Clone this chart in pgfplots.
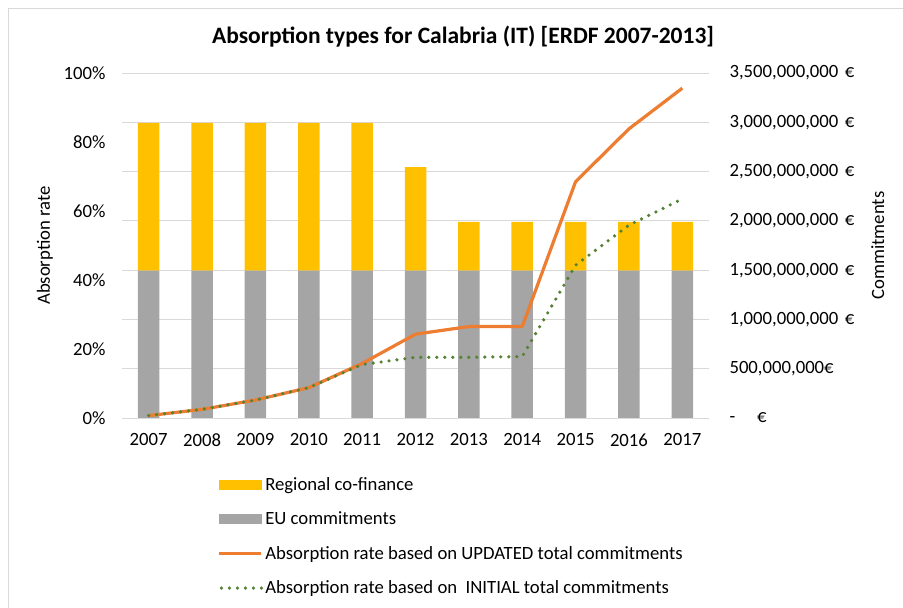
\documentclass[border=0pt]{standalone}
\usepackage{pgfplots}
\pgfplotsset{compat=1.18}
\usepackage{fontspec}
\setmainfont{Carlito}
\definecolor{cofin}{HTML}{FFC000}
\definecolor{eugrey}{HTML}{A5A5A5}
\definecolor{upd}{HTML}{ED7D31}
\definecolor{ini}{HTML}{548235}
\definecolor{gridc}{HTML}{D9D9D9}
\newcommand{\fs}{\fontsize{18.7}{21}\selectfont}
\newcommand{\eu}{\hspace{0.35em}€}
\begin{document}
\begin{tikzpicture}
\path[use as bounding box] (0pt,0pt) rectangle (903pt,608pt);
\draw[gridc, line width=0.8pt] (8pt,0pt) -- (8pt,600pt) -- (903pt,600pt);
\node[font=\fontsize{23.5}{26}\selectfont\bfseries] at (463pt,571pt) {Absorption types for Calabria (IT) [ERDF 2007-2013]};
% bars on right axis
\begin{axis}[
  at={(122pt,190pt)}, anchor=south west,
  width=587pt, height=345pt, scale only axis,
  xmin=-0.5, xmax=10.5,
  ymin=0, ymax=3.5e9,
  scaled y ticks=false,
  axis y line*=right,
  axis x line=none,
  ybar stacked, bar width=21.5pt,
  ytick={0,5e8,1e9,1.5e9,2e9,2.5e9,3e9,3.5e9},
  yticklabels={{-\enspace\enspace\,€},{500,000,000€},{1,000,000,000\eu},{1,500,000,000\eu},{2,000,000,000\eu},{2,500,000,000\eu},{3,000,000,000\eu},{3,500,000,000\eu}},
  yticklabel style={font=\fs, anchor=west, xshift=17pt},
  ymajorgrids, grid style={gridc, line width=0.9pt},
  major tick length=0pt,
  axis line style={draw=none},
  ylabel={Commitments}, ylabel style={font=\fs},
  ylabel shift=10pt,
]
\addplot[fill=eugrey, draw=none] coordinates {(0,1.495e9) (1,1.495e9) (2,1.495e9) (3,1.495e9) (4,1.495e9) (5,1.495e9) (6,1.495e9) (7,1.495e9) (8,1.495e9) (9,1.495e9) (10,1.495e9)};
\addplot[fill=cofin, draw=none] coordinates {(0,1.5e9) (1,1.5e9) (2,1.5e9) (3,1.5e9) (4,1.5e9) (5,1.05e9) (6,0.495e9) (7,0.495e9) (8,0.495e9) (9,0.495e9) (10,0.495e9)};
\end{axis}
% lines on left axis
\begin{axis}[
  at={(122pt,190pt)}, anchor=south west,
  width=587pt, height=345pt, scale only axis,
  xmin=-0.5, xmax=10.5,
  ymin=0, ymax=1,
  axis y line*=left,
  axis x line*=bottom,
  axis line style={draw=none},
  xtick={0,...,10},
  xticklabels={2007,2008,2009,2010,2011,2012,2013,2014,2015,2016,2017},
  xticklabel style={font=\fs, yshift=-12pt},
  ytick={0,0.2,0.4,0.6,0.8,1},
  yticklabels={0\%,20\%,40\%,60\%,80\%,100\%},
  yticklabel style={font=\fs, xshift=-13pt},
  major tick length=0pt,
  ylabel={Absorption rate}, ylabel style={font=\fs},
  ylabel shift=4pt,
  legend style={at={(0.163,-0.166)}, anchor=north west, draw=none, fill=none,
    font=\fs, row sep=16pt, inner sep=0pt,
    /tikz/every even column/.append style={column sep=6pt}},
  legend cell align=left,
]
\addlegendimage{area legend, legend image code/.code={\fill[cofin] (0pt,-4.5pt) rectangle (42pt,4.5pt);}}
\addlegendentry{Regional co-finance}
\addlegendimage{area legend, legend image code/.code={\fill[eugrey] (0pt,-4.5pt) rectangle (42pt,4.5pt);}}
\addlegendentry{EU commitments}
\addplot[upd, line width=3.2pt, line join=round, legend image code/.code={\draw[upd, line width=3.2pt] (0pt,0pt) -- (42pt,0pt);}] coordinates {(0,0.007) (1,0.025) (2,0.052) (3,0.088) (4,0.158) (5,0.243) (6,0.265) (7,0.265) (8,0.685) (9,0.838) (10,0.956)};
\addlegendentry{Absorption rate based on UPDATED total commitments}
\addplot[ini, line width=3.6pt, line cap=round, dash pattern=on 0pt off 8pt, legend image code/.code={\draw[ini, line width=3.6pt, line cap=round, dash pattern=on 0pt off 8pt] (2pt,0pt) -- (42pt,0pt);}] coordinates {(0,0.007) (1,0.025) (2,0.052) (3,0.088) (4,0.155) (5,0.176) (6,0.176) (7,0.178) (8,0.443) (9,0.559) (10,0.635)};
\addlegendentry{Absorption rate based on \ INITIAL total commitments}
\end{axis}
\end{tikzpicture}
\end{document}
